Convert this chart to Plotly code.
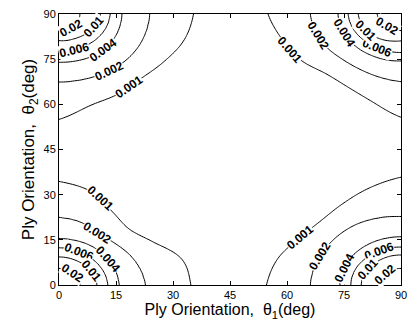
import numpy as np
import plotly.graph_objects as go

# ---------------- data ----------------
levels = [0.001, 0.002, 0.004, 0.006, 0.01, 0.02]
level_text = ["0.001", "0.002", "0.004", "0.006", "0.01", "0.02"]
phi_deg = [0, 15, 30, 45, 60, 75, 90]   # direction from a corner (0 = along θ1 edge)
axis_ticks = [0, 15, 30, 45, 60, 75, 90]

# distance (deg) of each contour level from its corner, per direction
r_bottom_left = [
    [34.7, 33.4, 28.6, 26.2, 28.1, 32.2, 34.4],
    [22.7, 21.9, 21.0, 20.1, 20.0, 21.6, 22.4],
    [15.8, 15.6, 15.5, 15.5, 15.5, 15.4, 15.4],
    [12.8, 12.6, 12.4, 12.3, 12.3, 12.3, 12.3],
    [10.0, 9.8, 9.6, 9.4, 9.3, 9.3, 9.3],
    [5.5, 5.5, 5.5, 5.5, 5.5, 5.5, 5.5],
]
r_top_left = [
    [35.4, 34.0, 31.8, 30.4, 30.8, 31.5, 35.0],
    [23.8, 23.6, 23.5, 23.3, 22.9, 22.6, 22.5],
    [16.5, 16.5, 16.6, 16.7, 16.5, 16.2, 16.0],
    [13.4, 13.2, 13.0, 12.8, 12.6, 12.5, 12.5],
    [10.9, 10.5, 10.0, 9.6, 9.2, 9.0, 8.8],
    [5.5, 5.5, 5.5, 5.5, 5.5, 5.5, 5.5],
]
r_top_right = [
    [35.0, 32.4, 30.5, 28.0, 28.0, 30.0, 34.3],
    [23.8, 23.2, 22.4, 21.5, 21.3, 21.7, 22.4],
    [16.5, 16.3, 16.1, 16.0, 15.8, 15.7, 15.6],
    [13.9, 13.6, 13.3, 13.0, 12.9, 12.8, 12.8],
    [11.3, 11.0, 10.7, 10.3, 9.8, 9.3, 8.9],
    [6.3, 6.0, 5.8, 5.6, 5.5, 5.5, 5.5],
]
r_bottom_right = [
    [35.4, 33.6, 31.0, 30.0, 31.0, 33.2, 35.8],
    [23.8, 23.5, 23.3, 23.3, 23.3, 23.0, 22.7],
    [16.0, 16.0, 16.0, 16.0, 16.0, 16.0, 16.0],
    [13.2, 13.1, 13.0, 12.8, 12.7, 12.6, 12.6],
    [10.5, 10.4, 10.2, 10.0, 10.0, 10.0, 10.0],
    [5.5, 5.5, 5.5, 5.5, 5.5, 5.5, 5.5],
]
# direction (deg) at which each level's inline label sits
label_phi_bottom_left = [69.5, 59.7, 34, 64, 28, 49]
label_phi_top_left = [53, 55, 46, 71, 24, 55]
label_phi_top_right = [22, 18, 23, 61, 31, 48]
label_phi_bottom_right = [31, 24, 21, 63, 31, 42]

# corner origin and direction of the local axes
corners = [
    ((0, 0), (1, 1), r_bottom_left, label_phi_bottom_left),
    ((0, 90), (1, -1), r_top_left, label_phi_top_left),
    ((90, 90), (-1, -1), r_top_right, label_phi_top_right),
    ((90, 0), (-1, 1), r_bottom_right, label_phi_bottom_right),
]

# ---------------- layout constants ----------------
W, H = 415, 324
ML, MR, MT, MB = 59, 8, 13, 39
SX = (W - ML - MR) / 90.0
SY = (H - MT - MB) / 90.0
FONT = "Liberation Sans, Arial"


def smooth_interp(phi, xp, fp):
    """Catmull-Rom interpolation through the read radii (uniform xp)."""
    xp = np.asarray(xp, float)
    fp = np.asarray(fp, float)
    n = len(xp)
    h = xp[1] - xp[0]
    fpad = np.concatenate([[2 * fp[0] - fp[1]], fp, [2 * fp[-1] - fp[-2]]])
    phi = np.clip(np.asarray(phi, float), xp[0], xp[-1])
    idx = np.clip(np.floor((phi - xp[0]) / h).astype(int), 0, n - 2)
    t = (phi - xp[idx]) / h
    p0, p1, p2, p3 = fpad[idx], fpad[idx + 1], fpad[idx + 2], fpad[idx + 3]
    return 0.5 * ((2 * p1) + (-p0 + p2) * t + (2 * p0 - 5 * p1 + 4 * p2 - p3) * t ** 2
                  + (-p0 + 3 * p1 - 3 * p2 + p3) * t ** 3)


# ---------------- field reconstructed from the contour readings ----------------
g = np.linspace(0, 90, 151)
T1, T2 = np.meshgrid(g, g)
log_levels = np.log(np.array(levels))


def corner_field(origin, radii):
    u = np.abs(T1 - origin[0])
    v = np.abs(T2 - origin[1])
    r = np.hypot(u, v)
    phi = np.degrees(np.arctan2(v, u))
    R = np.array([smooth_interp(phi, phi_deg, row) for row in radii])[::-1]
    Ls = log_levels[::-1]
    s0 = (Ls[1] - Ls[0]) / (R[1] - R[0])
    out = Ls[0] + s0 * (r - R[0])
    for k in range(len(Ls) - 1):
        s = (Ls[k + 1] - Ls[k]) / (R[k + 1] - R[k])
        out = np.where(r >= R[k], Ls[k] + s * (r - R[k]), out)
    return out


logz = np.max([corner_field(c[0], c[2]) for c in corners], axis=0)
Z = np.round(np.exp(logz), 7)

fig = go.Figure()
for L in levels:
    fig.add_trace(go.Contour(
        x=g, y=g, z=Z,
        contours=dict(start=L, end=L, size=1, coloring="lines", showlabels=False),
        line=dict(color="black", width=1, smoothing=1),
        colorscale=[[0, "black"], [1, "black"]],
        showscale=False, hoverinfo="skip",
    ))


# inline labels
def point(origin, dirs, radii_row, phi):
    r = float(smooth_interp(phi, phi_deg, radii_row))
    u = r * np.cos(np.radians(phi))
    v = r * np.sin(np.radians(phi))
    return origin[0] + dirs[0] * u, origin[1] + dirs[1] * v


annotations = []
for origin, dirs, radii, lphis in corners:
    for k, txt in enumerate(level_text):
        ph = lphis[k]
        x, y = point(origin, dirs, radii[k], ph)
        xa, ya = point(origin, dirs, radii[k], ph - 3)
        xb, yb = point(origin, dirs, radii[k], ph + 3)
        dx = (xb - xa) * SX
        dy = -(yb - ya) * SY
        ang = np.degrees(np.arctan2(dy, dx))
        if ang > 90:
            ang -= 180
        if ang <= -90:
            ang += 180
        annotations.append(dict(
            x=float(x), y=float(y), xref="x", yref="y", text=txt, showarrow=False,
            textangle=float(ang), bgcolor="white", borderpad=0,
            font=dict(family=FONT, size=12, color="black", weight="bold"),
        ))

axis_common = dict(
    range=[0, 90], tickvals=axis_ticks, ticks="inside", ticklen=4, tickcolor="black",
    mirror="allticks", showline=True, linecolor="black", linewidth=1,
    showgrid=False, zeroline=False,
    tickfont=dict(family=FONT, size=11, color="black"),
)
fig.update_layout(
    width=W, height=H, margin=dict(l=ML, r=MR, t=MT, b=MB),
    paper_bgcolor="white", plot_bgcolor="white", showlegend=False,
    annotations=annotations,
    xaxis=dict(**axis_common, title=dict(text="Ply Orientation,\u00a0 θ<sub>1</sub>(deg)", standoff=2,
               font=dict(family=FONT, size=16, color="black"))),
    yaxis=dict(**axis_common, title=dict(text="Ply Orientation,\u00a0 θ<sub>2</sub>(deg)", standoff=4,
               font=dict(family=FONT, size=17, color="black"))),
)
fig.write_html("out.html")
